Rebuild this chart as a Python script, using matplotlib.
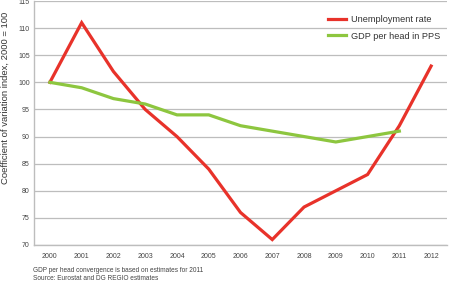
import numpy as np
import matplotlib.pyplot as plt

plt.rcParams['font.family'] = ['Liberation Sans', 'DejaVu Sans']

years = ['2000', '2001', '2002', '2003', '2004', '2005', '2006',
         '2007', '2008', '2009', '2010', '2011', '2012']
unemployment = [100, 111, 102, 95, 90, 84, 76, 71, 77, 80, 83, 92, 103]
gdp_pps = [100, 99, 97, 96, 94, 94, 92, 91, 90, 89, 90, 91]

red = '#e8322a'
green = '#8dc63f'
grid_col = '#bdbdbd'

fig = plt.figure(figsize=(4.51, 2.85), dpi=100)
ax = fig.add_axes([34 / 451, 40 / 285, 413 / 451, 244 / 285])

x = np.arange(len(years))
ax.plot(x, unemployment, color=red, lw=2.3, label='Unemployment rate',
        solid_joinstyle='miter')
ax.plot(x[:len(gdp_pps)], gdp_pps, color=green, lw=2.3,
        label='GDP per head in PPS', solid_joinstyle='miter')

ax.set_xlim(-0.5, len(years) - 0.5)
ax.set_ylim(70, 115)
ax.set_yticks(range(70, 116, 5))
ax.set_xticks(x)
ax.set_xticklabels(years)
ax.tick_params(axis='y', length=0, labelsize=5, colors='#444444', pad=3)
ax.tick_params(axis='x', length=0, labelsize=5, colors='#444444', pad=6)
ax.grid(axis='y', color=grid_col, lw=0.9)
ax.set_axisbelow(True)
for s in ['top', 'right']:
    ax.spines[s].set_visible(False)
for s in ['left', 'bottom']:
    ax.spines[s].set_color(grid_col)
    ax.spines[s].set_linewidth(1.0)

# label anchor is its right edge (rotated text)
ax.set_ylabel('Coefficient of variation index, 2000 = 100', fontsize=6.8,
              color='#333333')
ax.yaxis.set_label_coords(-0.058, 0.605)

leg = ax.legend(loc='upper right', fontsize=6.6, frameon=False,
                handlelength=2.0, handletextpad=0.6, borderaxespad=0.3,
                labelspacing=0.85, bbox_to_anchor=(1.0, 0.97))
for t in leg.get_texts():
    t.set_color('#333333')

fig.text(33 / 451, 1 - 270 / 285, 'GDP per head convergence is based on estimates for 2011',
         fontsize=4.7, color='#444444', va='center')
fig.text(33 / 451, 1 - 279 / 285, 'Source: Eurostat and DG REGIO estimates',
         fontsize=4.7, color='#444444', va='center')

fig.savefig('out.png', dpi=100)
